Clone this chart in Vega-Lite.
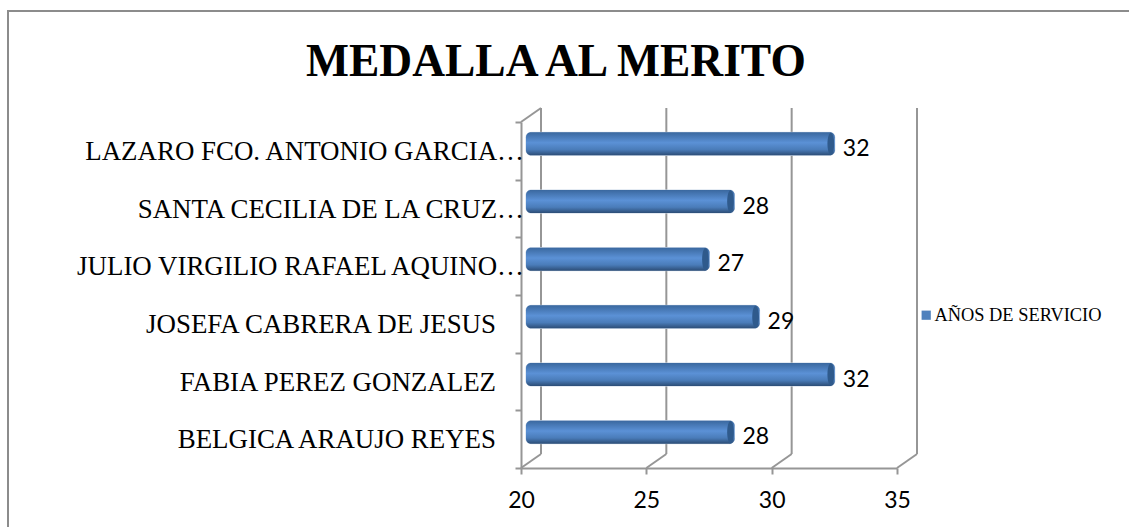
{
"$schema":"https://vega.github.io/schema/vega-lite/v6.json",
"width":1300,"height":600,
"autosize":"none",
"padding":{"left":8,"top":11,"right":0,"bottom":0},
"background":"white",
"config":{"view":{"stroke":"#8c8c8c","strokeWidth":2}},
"title":{"text":"MEDALLA AL MERITO","font":"Liberation Serif","fontWeight":"bold","fontSize":45.5,"color":"black","anchor":"start","frame":"group","dx":298,"offset":-74},
"datasets":{
"rows":[
{"name":"LAZARO FCO. ANTONIO GARCIA…","years":32,"base":20,"serie":"AÑOS DE SERVICIO"},
{"name":"SANTA CECILIA DE LA CRUZ…","years":28,"base":20,"serie":"AÑOS DE SERVICIO"},
{"name":"JULIO VIRGILIO RAFAEL AQUINO…","years":27,"base":20,"serie":"AÑOS DE SERVICIO"},
{"name":"JOSEFA CABRERA DE JESUS","years":29,"base":20,"serie":"AÑOS DE SERVICIO"},
{"name":"FABIA PEREZ GONZALEZ","years":32,"base":20,"serie":"AÑOS DE SERVICIO"},
{"name":"BELGICA ARAUJO REYES","years":28,"base":20,"serie":"AÑOS DE SERVICIO"}],
"ticks":[{"tick":20,"top":6,"bottom":0},{"tick":25,"top":6,"bottom":0},{"tick":30,"top":6,"bottom":0},{"tick":35,"top":6,"bottom":0}],
"corner":[{"tick":20,"top":6}]
},
"layer":[
{"data":{"name":"ticks"},"layer":[
 {"mark":{"type":"rule","color":"#969696","strokeWidth":2,"xOffset":20,"yOffset":-14,"y2Offset":-14},
 "encoding":{"x":{"field":"tick","type":"quantitative","scale":{"domain":[20,35],"range":[513,889],"nice":false,"zero":false},"axis":{"values":[20,25,30,35],"format":"d","orient":"bottom","offset":-143,"grid":false,"domainColor":"#969696","domainWidth":2,"tickColor":"#969696","tickWidth":2,"tickSize":6,"labelFont":"Lato","labelFontSize":23,"labelColor":"black","labelPadding":15,"title":null,"labelFlush":false,"labelOverlap":false}},
 "y":{"field":"top","type":"quantitative","scale":{"domain":[0,6],"range":[457,111],"nice":false,"zero":false},"axis":null},"y2":{"field":"bottom"}}},
 {"mark":{"type":"rule","color":"#969696","strokeWidth":2,"xOffset":0,"x2Offset":20,"yOffset":0,"y2Offset":-14},
 "encoding":{"x":{"field":"tick","type":"quantitative"},"x2":{"field":"tick"},
 "y":{"field":"bottom","type":"quantitative"},"y2":{"field":"bottom"}}},
 {"data":{"name":"corner"},"mark":{"type":"rule","color":"#969696","strokeWidth":2,"xOffset":0,"x2Offset":20,"yOffset":0,"y2Offset":-14},
 "encoding":{"x":{"field":"tick","type":"quantitative"},"x2":{"field":"tick"},
 "y":{"field":"top","type":"quantitative"},"y2":{"field":"top"}}}
]},
{"data":{"name":"rows"},"layer":[
 {"mark":{"type":"bar","xOffset":13,"x2Offset":5,"yOffset":-7,"height":23,"cornerRadius":5,"stroke":"#c9d6e6","strokeWidth":1},
  "encoding":{"x":{"field":"years","type":"quantitative"},"x2":{"field":"base"},
  "y":{"field":"name","type":"nominal","sort":null,"scale":{"range":[111,457],"paddingInner":0,"paddingOuter":0},"axis":{"orient":"left","offset":-513,"title":null,"domainColor":"#969696","domainWidth":2,"tickColor":"#969696","tickWidth":2,"tickSize":6,"tickBand":"extent","labels":false}},
  "color":{"field":"serie","type":"nominal","scale":{"range":["#4f81bd"]},"legend":{"orient":"none","legendX":909,"legendY":295,"title":null,"labelFont":"Liberation Serif","labelFontSize":18.4,"labelColor":"black","labelLimit":300,"symbolType":"square","symbolSize":85,"symbolStrokeWidth":0,"labelOffset":-1}}}},
 {"mark":{"type":"bar","xOffset":13,"x2Offset":5,"yOffset":-7,"height":23,"cornerRadius":5,
  "fill":{"gradient":"linear","x1":0,"y1":0,"x2":0,"y2":1,"stops":[{"offset":0,"color":"#3a689f"},{"offset":0.45,"color":"#5b91d6"},{"offset":0.75,"color":"#4a7cb9"},{"offset":1,"color":"#2c4d76"}]}},
  "encoding":{"x":{"field":"years","type":"quantitative"},"x2":{"field":"base"},"y":{"field":"name","type":"nominal","sort":null}}},
 {"mark":{"type":"point","shape":"M0,-1A0.3,1,0,1,1,0,1A0.3,1,0,1,1,0,-1Z","size":500,"filled":true,"opacity":1,"fill":"#2f5a8c","stroke":null,"xOffset":9,"yOffset":-7},
  "encoding":{"x":{"field":"years","type":"quantitative"},"y":{"field":"name","type":"nominal","sort":null}}},
 {"mark":{"type":"text","font":"Lato","fontSize":23,"color":"black","align":"left","xOffset":21,"yOffset":-2},
  "encoding":{"x":{"field":"years","type":"quantitative"},"y":{"field":"name","type":"nominal","sort":null},"text":{"field":"years","type":"quantitative"}}},
 {"transform":[{"filter":"indexof(datum.name,'…')>=0"}],
  "mark":{"type":"text","font":"Liberation Serif","fontSize":26.9,"color":"black","align":"right","xOffset":3,"yOffset":1},
  "encoding":{"x":{"field":"base","type":"quantitative"},"y":{"field":"name","type":"nominal","sort":null},"text":{"field":"name","type":"nominal"}}},
 {"transform":[{"filter":"indexof(datum.name,'…')<0"}],
  "mark":{"type":"text","font":"Liberation Serif","fontSize":26.9,"color":"black","align":"right","xOffset":-25,"yOffset":1},
  "encoding":{"x":{"field":"base","type":"quantitative"},"y":{"field":"name","type":"nominal","sort":null},"text":{"field":"name","type":"nominal"}}}
]}
],
"resolve":{"scale":{"y":"independent"}}
}
